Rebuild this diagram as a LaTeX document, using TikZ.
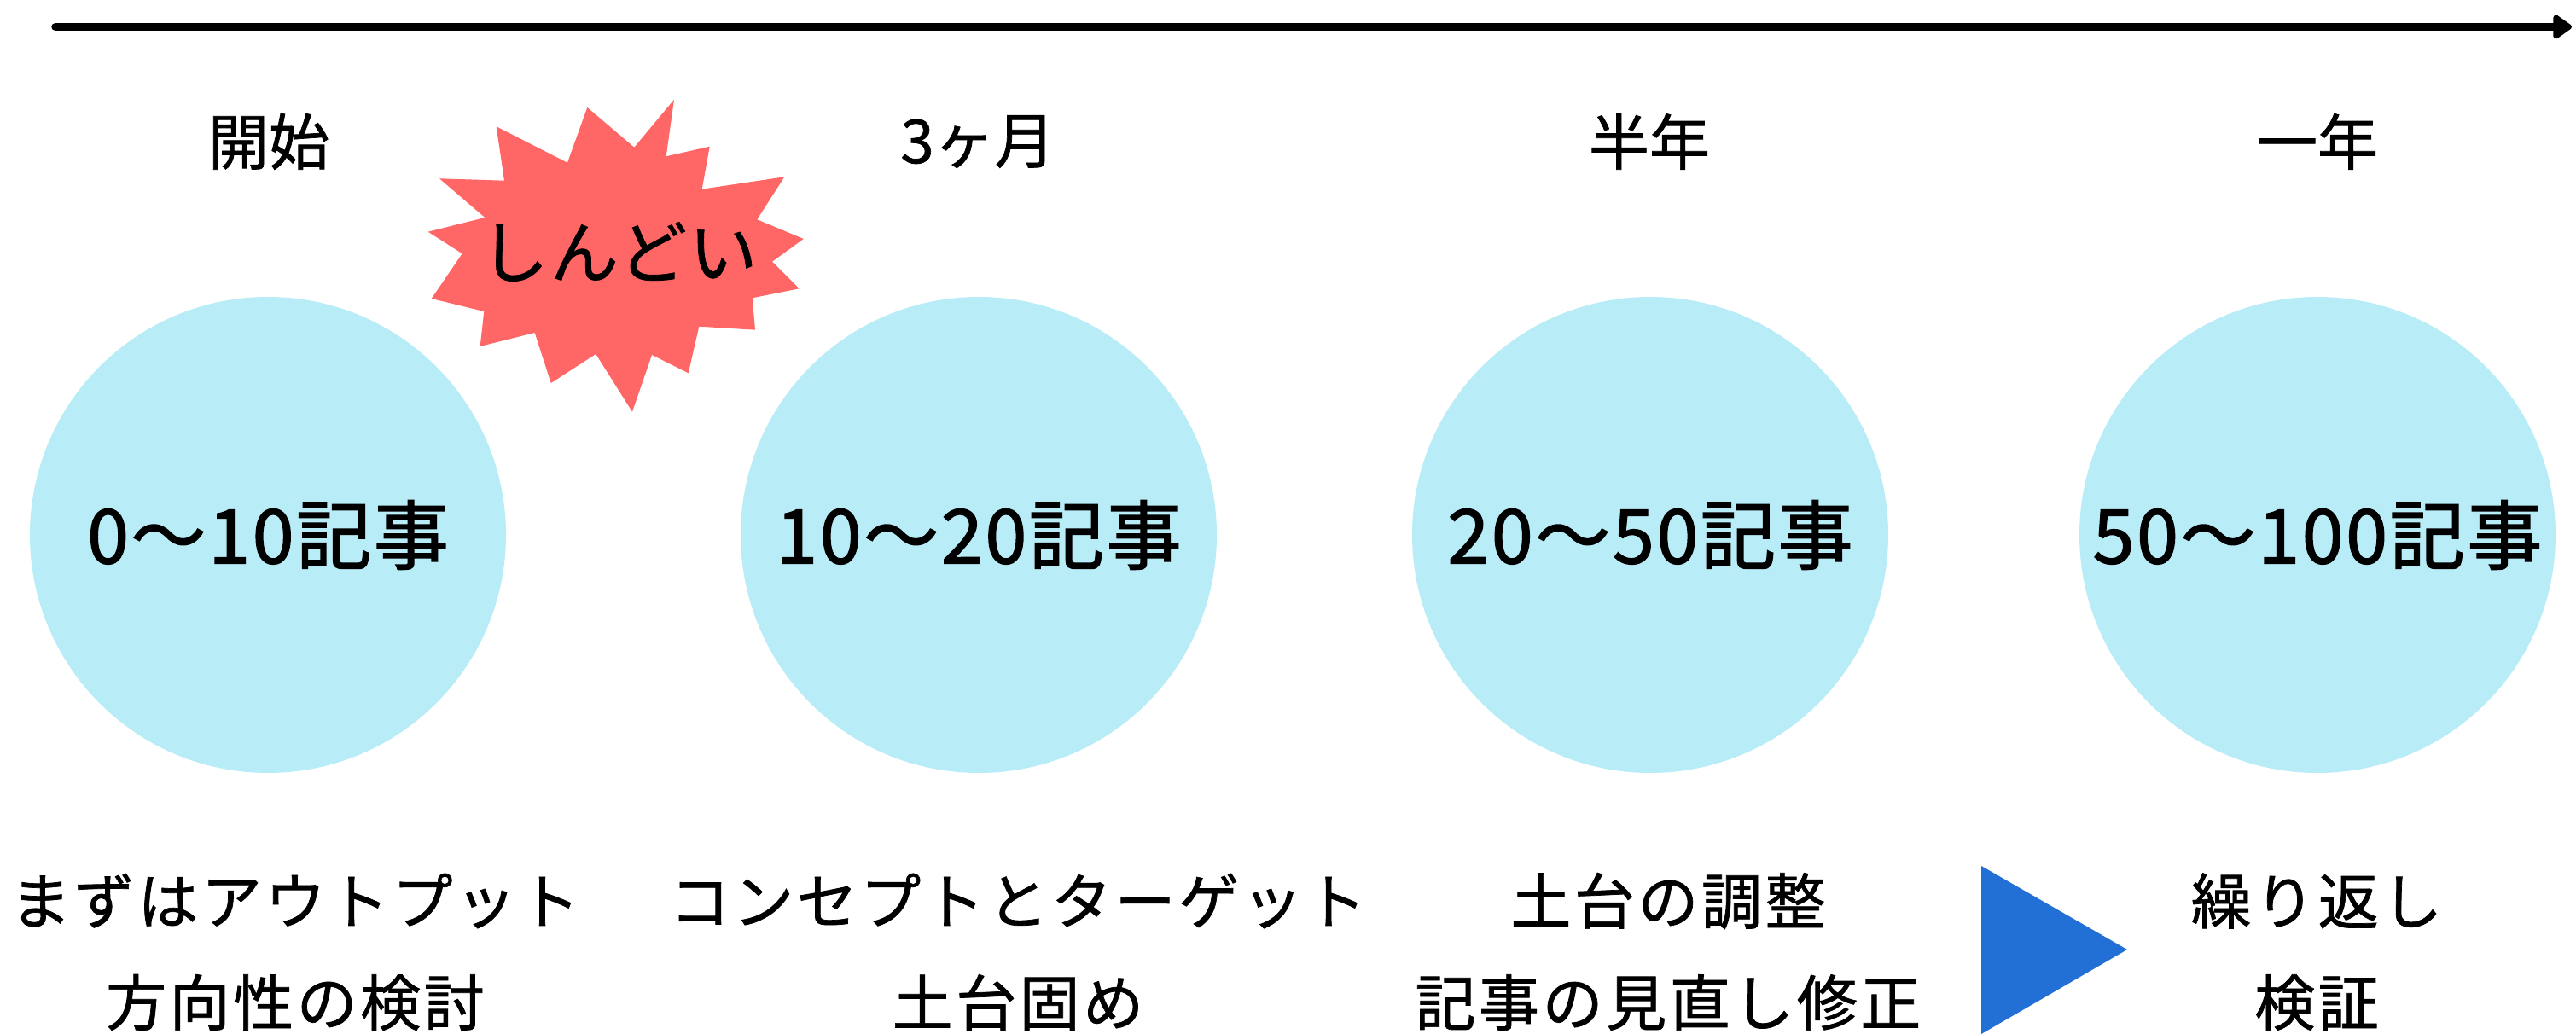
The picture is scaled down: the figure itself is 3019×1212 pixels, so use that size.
\documentclass[tikz,border=0pt]{standalone}
\usepackage{fontspec}
\setmainfont{Noto Sans CJK JP}
\usetikzlibrary{arrows.meta}
\definecolor{circ}{HTML}{B8ECF7}
\definecolor{burst}{HTML}{FF6666}
\definecolor{tri}{HTML}{2270D6}
\tikzset{
  stage/.style={circle, fill=circ, minimum size=558pt, inner sep=0pt, font=\fontsize{88}{100}\selectfont\addfontfeature{LetterSpace=3,FakeBold=1.6}},
  period/.style={inner sep=0pt, font=\fontsize{71}{85}\selectfont\addfontfeature{FakeBold=1}},
  desc/.style={inner sep=0pt, font=\fontsize{71}{85}\selectfont\addfontfeature{LetterSpace=5,FakeBold=1}},
  burstlabel/.style={inner sep=0pt, font=\fontsize{80}{95}\selectfont\addfontfeature{LetterSpace=3,FakeBold=1}},
}
\begin{document}
\begin{tikzpicture}[x=1pt,y=-1pt]
\useasboundingbox (0,0) rectangle (3019,1212);
% timeline
\coordinate (t0) at (65,31.5);
\coordinate (t1) at (3014,31.5);
\draw[line width=9.5pt, line cap=round, -{Triangle[length=24pt,width=32pt,round]}] (t0) -- (t1);
% period labels
\node[period] (p1) at (315,166) {開始};
\node[period] (p2) at (1146,166) {3ヶ月};
\node[period] (p3) at (1933,166) {半年};
\node[period] (p4) at (2716,166) {一年};
% circles
\node[stage] (c1) at (314,627) {0〜10記事};
\node[stage] (c2) at (1147,627) {10〜20記事};
\node[stage] (c3) at (1934,627) {20〜50記事};
\node[stage] (c4) at (2716,627) {50〜100記事};
% starburst
\fill[burst] (581.7,148.3) -- (665,190.7) -- (688.3,126) -- (743.3,172.7) -- (790,116.7) -- (780.7,183.3) -- (831.7,171.7) -- (822.7,221.7) -- (919.3,207.3) -- (887.3,257.3) -- (941.7,280) -- (905,306.7) -- (936.7,338.3) -- (881.7,349.3) -- (885,386.7) -- (819.3,382.7) -- (806.7,437.3) -- (764,416) -- (741,482.7) -- (698.3,415) -- (645.7,449) -- (626.7,390) -- (562.7,406) -- (567.3,365) -- (505.7,350) -- (541.7,297.3) -- (501.7,271.7) -- (568.3,255) -- (515,209.3) -- (591,211.7) -- cycle;
\node[burstlabel] (b) at (725,295) {しんどい};
% descriptions
\node[desc] (d1a) at (346,1056) {まずはアウトプット};
\node[desc] (d1b) at (346,1175) {方向性の検討};
\node[desc] (d2a) at (1193,1056) {コンセプトとターゲット};
\node[desc] (d2b) at (1193,1175) {土台固め};
\node[desc] (d3a) at (1955,1056) {土台の調整};
\node[desc] (d3b) at (1955,1175) {記事の見直し修正};
\node[desc] (d4a) at (2715,1056) {繰り返し};
\node[desc] (d4b) at (2715,1175) {検証};
% blue triangle
\fill[tri] (2322,1015) -- (2493,1113) -- (2322,1212) -- cycle;
\end{tikzpicture}
\end{document}
